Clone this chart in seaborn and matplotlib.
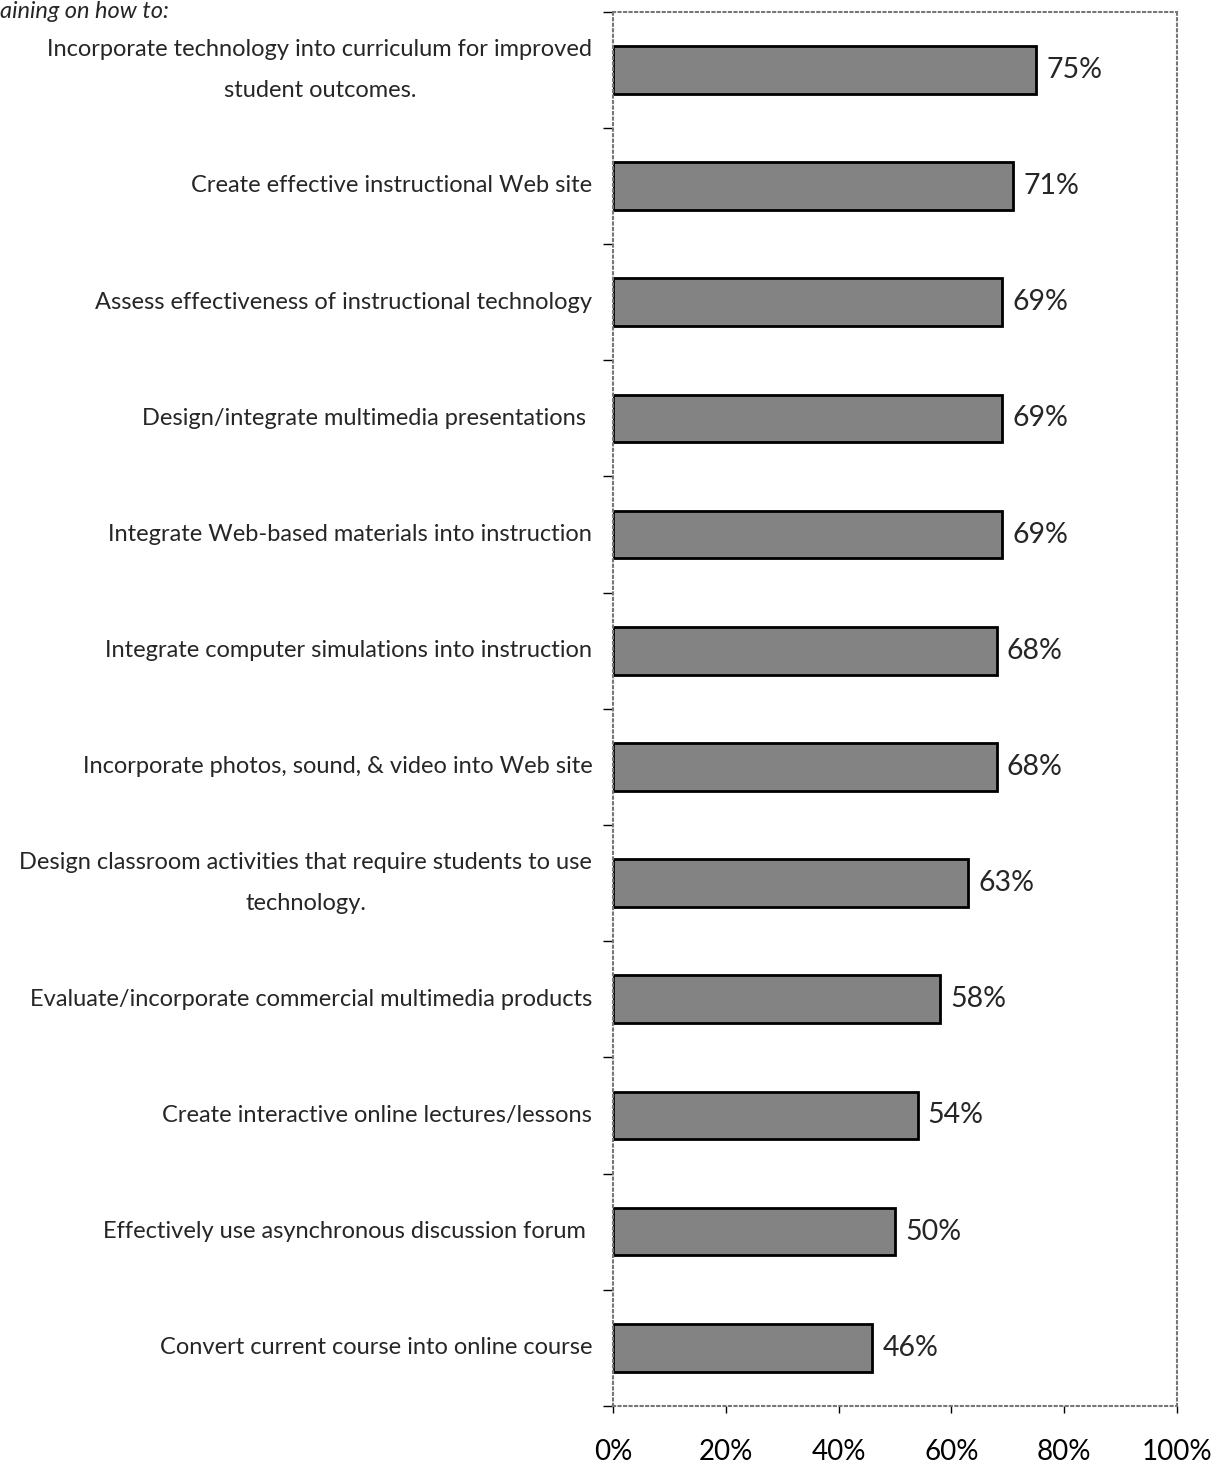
import matplotlib
matplotlib.use("Agg")
import matplotlib.pyplot as plt
import seaborn as sns
import pandas as pd
from matplotlib.ticker import FixedLocator, PercentFormatter

categories = [
    "Incorporate technology into curriculum for improved\nstudent outcomes.",
    "Create effective instructional Web site",
    "Assess effectiveness of instructional technology",
    "Design/integrate multimedia presentations ",
    "Integrate Web-based materials into instruction",
    "Integrate computer simulations into instruction",
    "Incorporate photos, sound, & video into Web site",
    "Design classroom activities that require students to use\ntechnology.",
    "Evaluate/incorporate commercial multimedia products",
    "Create interactive online lectures/lessons",
    "Effectively use asynchronous discussion forum ",
    "Convert current course into online course",
]
values = [75, 71, 69, 69, 69, 68, 68, 63, 58, 54, 50, 46]
x_ticks = [0, 20, 40, 60, 80, 100]

df = pd.DataFrame({"task": categories, "pct": values})

sns.set_style("white")
plt.rcParams["font.family"] = ["Lato", "DejaVu Sans"]

fig = plt.figure(figsize=(12.19, 14.66), dpi=100)
ax = fig.add_axes([0.503, 0.041, 0.4625, 0.951])

sns.barplot(data=df, x="pct", y="task", orient="h", color="#838383",
            edgecolor="black", linewidth=2, width=0.41, saturation=1, ax=ax)

for i, v in enumerate(values):
    ax.text(v + 1.8, i, f"{v}%", va="center", ha="left", fontsize=20.5)

ax.set_xlim(0, 100)
ax.set_ylim(len(categories) - 0.5, -0.5)
ax.set_xlabel("")
ax.set_ylabel("")

ax.xaxis.set_major_locator(FixedLocator(x_ticks))
ax.xaxis.set_major_formatter(PercentFormatter(decimals=0))
ax.tick_params(axis="x", length=5, width=1, pad=19, labelsize=20, colors="black", bottom=True)

ax.set_yticks(range(len(categories)))
ax.set_yticklabels(categories, fontsize=17, linespacing=2.2, multialignment="center", va="center")
ax.tick_params(axis="y", which="major", length=0, pad=15)
ax.set_yticks([i + 0.5 for i in range(-1, len(categories))], minor=True)
ax.tick_params(axis="y", which="minor", length=7, width=1, left=True, color="black")

for s in ax.spines.values():
    s.set_linestyle(":")
    s.set_color("#777777")
    s.set_linewidth(1.5)

# header text, mostly cut off at the top of the original page
fig.text(0.0, 0.999, "aining on how to:", fontsize=17, style="italic", ha="left", va="top")

fig.savefig("out.png", dpi=100)
